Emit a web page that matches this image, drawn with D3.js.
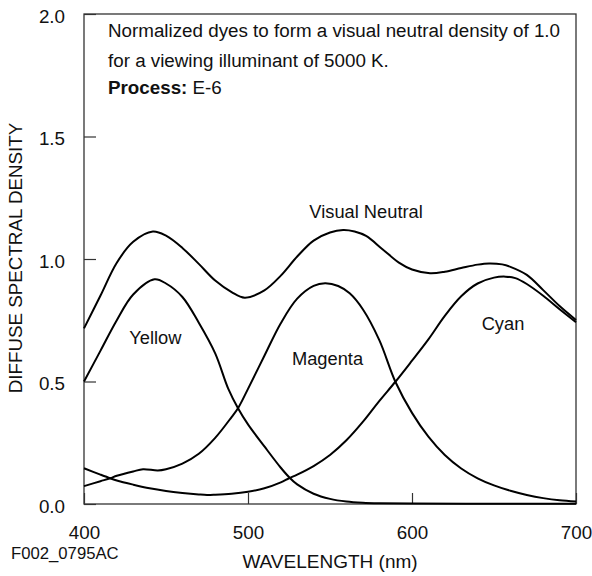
<!DOCTYPE html>
<html>
<head>
<meta charset="utf-8">
<script src="https://cdn.jsdelivr.net/npm/d3@7/dist/d3.min.js"></script>
<style>
  html, body { margin: 0; padding: 0; background: #fff; }
  svg text { font-family: "Liberation Sans", Arial, Helvetica, sans-serif; fill: #111; }
</style>
</head>
<body>
<svg id="chart" width="592" height="576"></svg>
<script>
// ---- data (wavelength nm, diffuse spectral density) ----
const yellowNm   = [400,410,420,430,443,450,460,470,480,488,494,500,510,520,525,530,540,550,560,570,580,600,650,700];
const yellowVal  = [0.500,0.625,0.750,0.855,0.917,0.900,0.845,0.740,0.615,0.470,0.390,0.325,0.235,0.148,0.110,0.080,0.042,0.021,0.010,0.005,0.003,0.002,0.001,0.001];

const magentaNm  = [400,410,416,420,430,436,445,450,460,470,480,490,494,500,510,520,530,540,547,555,562,570,580,590,600,610,620,630,640,650,660,670,680,690,700];
const magentaVal = [0.073,0.093,0.105,0.115,0.133,0.142,0.137,0.142,0.165,0.205,0.270,0.355,0.392,0.470,0.605,0.738,0.838,0.890,0.901,0.890,0.860,0.795,0.670,0.497,0.372,0.275,0.200,0.145,0.105,0.076,0.054,0.037,0.024,0.015,0.010];

const cyanNm     = [400,410,416,420,430,440,450,460,470,475,480,490,500,510,520,525,530,540,550,560,570,580,590,600,610,620,630,640,650,657,663,670,680,690,700];
const cyanVal    = [0.146,0.120,0.105,0.096,0.079,0.064,0.053,0.045,0.039,0.037,0.038,0.042,0.050,0.064,0.088,0.105,0.120,0.155,0.200,0.260,0.335,0.420,0.500,0.585,0.672,0.768,0.848,0.900,0.924,0.928,0.922,0.898,0.850,0.795,0.742];

const neutralNm  = [400,410,420,430,442,450,460,470,480,490,498,510,520,530,540,550,558,565,572,582,592,600,611,620,630,640,647,655,660,670,680,690,700];
const neutralVal = [0.717,0.850,0.985,1.070,1.112,1.095,1.045,0.980,0.912,0.865,0.842,0.872,0.932,1.010,1.075,1.108,1.118,1.112,1.094,1.040,0.985,0.957,0.942,0.948,0.963,0.977,0.982,0.978,0.968,0.935,0.873,0.808,0.751];

const xTicks = [400,500,600,700];
const yTicks = [0,0.5,1.0,1.5,2.0];
const labels = [
  {text:"Visual Neutral", nm:572, v:1.195},
  {text:"Yellow",         nm:443.5, v:0.680},
  {text:"Magenta",        nm:548.5, v:0.595},
  {text:"Cyan",           nm:655.5, v:0.735}
];
const noteLines = ["Normalized dyes to form a visual neutral density of 1.0",
                   "for a viewing illuminant of 5000 K."];
const processLabel = "Process:";
const processValue = " E-6";

// ---- layout ----
const svg = d3.select("#chart");
const L = 84, R = 576, T = 14, B = 504;
const FS = 18.8;
const x = d3.scaleLinear().domain([400,700]).range([L,R]);
const y = d3.scaleLinear().domain([0,2]).range([B,T]);

const series = [
  [yellowNm, yellowVal],
  [magentaNm, magentaVal],
  [cyanNm, cyanVal],
  [neutralNm, neutralVal]
];

const line = d3.line()
  .x(d => x(d[0]))
  .y(d => y(d[1]))
  .curve(d3.curveCatmullRom.alpha(0.5));

// axes
const gx = svg.append("g").attr("transform", `translate(0,${B})`)
  .call(d3.axisBottom(x).tickValues(xTicks).tickSizeInner(-11).tickSizeOuter(0).tickPadding(22).tickFormat(d3.format("d")));
gx.select(".domain").remove();
gx.selectAll("line").attr("stroke","#333").attr("stroke-width",1.2);
gx.selectAll("text").attr("font-size",FS).attr("fill","#111");

const gy = svg.append("g").attr("transform", `translate(${L},0)`)
  .call(d3.axisLeft(y).tickValues(yTicks).tickSizeInner(-12).tickSizeOuter(0).tickPadding(19).tickFormat(d3.format(".1f")));
gy.select(".domain").remove();
gy.selectAll("line").attr("stroke","#333").attr("stroke-width",1.2);
gy.selectAll("text").attr("font-size",FS).attr("fill","#111").attr("dy","0.45em");

// frame
svg.append("rect").attr("x",L).attr("y",T).attr("width",R-L).attr("height",B-T)
  .attr("fill","none").attr("stroke","#333").attr("stroke-width",1.3);

// curves
svg.append("g").selectAll("path").data(series).join("path")
  .attr("d", s => line(s[0].map((n,i) => [n, s[1][i]])))
  .attr("fill","none").attr("stroke","#000").attr("stroke-width",2);

// curve labels
svg.append("g").selectAll("text").data(labels).join("text")
  .attr("x", d => x(d.nm)).attr("y", d => y(d.v))
  .attr("text-anchor","middle").attr("dominant-baseline","central")
  .attr("font-size",18.3).text(d => d.text);

// note
svg.append("g").selectAll("text").data(noteLines).join("text")
  .attr("x",108).attr("y",(d,i) => 37 + i*30)
  .attr("font-size",FS).text(d => d);
const p = svg.append("text").attr("x",108).attr("y",94).attr("font-size",FS);
p.append("tspan").attr("font-weight","bold").text(processLabel);
p.append("tspan").text(processValue);

// axis titles
svg.append("text").attr("x",330).attr("y",568).attr("text-anchor","middle")
  .attr("font-size",19).text("WAVELENGTH (nm)");
svg.append("text").attr("transform","translate(22,258) rotate(-90)").attr("text-anchor","middle")
  .attr("font-size",FS).text("DIFFUSE SPECTRAL DENSITY");
svg.append("text").attr("x",11).attr("y",559).attr("font-size",16.7).text("F002_0795AC");
</script>
</body>
</html>
